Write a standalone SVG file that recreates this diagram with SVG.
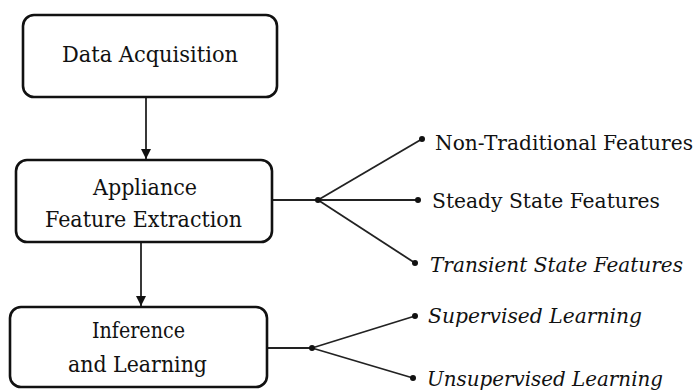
<svg xmlns="http://www.w3.org/2000/svg" width="700" height="391" viewBox="0 0 700 391">
<defs>
<style>
.box{fill:#fff;stroke:#111;stroke-width:2.6}
.t{font-family:'DejaVu Serif','Liberation Serif',serif;font-size:23px;fill:#111}
.leaf{font-size:20.5px}
.c{text-anchor:middle}
.i{font-style:italic}
.ln{fill:none;stroke:#222;stroke-width:1.8}
.dot{fill:#111}
</style>
<marker id="ah" viewBox="0 0 10 10" refX="10" refY="5" markerWidth="10" markerHeight="10" markerUnits="userSpaceOnUse" orient="auto">
<path d="M0,0 L10,5 L0,10 z" fill="#111"/>
</marker>
</defs>
<rect width="700" height="391" fill="#fff"/>
<g id="connectors">
<line class="ln" x1="146" y1="97" x2="146" y2="159" marker-end="url(#ah)"/>
<line class="ln" x1="141" y1="243" x2="141" y2="306" marker-end="url(#ah)"/>
<line class="ln" x1="272" y1="200" x2="318" y2="200"/>
<line class="ln" x1="318" y1="200" x2="422" y2="139"/>
<line class="ln" x1="318" y1="200" x2="418" y2="200"/>
<line class="ln" x1="318" y1="200" x2="415" y2="263"/>
<line class="ln" x1="267" y1="348" x2="312" y2="348"/>
<line class="ln" x1="312" y1="348" x2="415" y2="316"/>
<line class="ln" x1="312" y1="348" x2="413" y2="378"/>
<circle class="dot" cx="318" cy="200" r="3"/>
<circle class="dot" cx="312" cy="348" r="3"/>
<circle class="dot" cx="422" cy="139" r="3"/>
<circle class="dot" cx="418" cy="200" r="3"/>
<circle class="dot" cx="415" cy="263" r="3"/>
<circle class="dot" cx="415" cy="316" r="3"/>
<circle class="dot" cx="413" cy="378" r="3"/>
</g>
<g id="data-acquisition">
<rect class="box" x="23" y="15" width="254" height="82" rx="11"/>
<text class="t c" x="150" y="62" textLength="176" lengthAdjust="spacingAndGlyphs">Data Acquisition</text>
</g>
<g id="feature-extraction">
<rect class="box" x="16" y="160" width="256" height="82" rx="11"/>
<text class="t c" x="145" y="195" textLength="104" lengthAdjust="spacingAndGlyphs">Appliance</text>
<text class="t c" x="143.5" y="227" textLength="197" lengthAdjust="spacingAndGlyphs">Feature Extraction</text>
</g>
<g id="inference-learning">
<rect class="box" x="10" y="307" width="257" height="80" rx="11"/>
<text class="t c" x="138.5" y="338" textLength="93" lengthAdjust="spacingAndGlyphs">Inference</text>
<text class="t c" x="137.5" y="372" textLength="139" lengthAdjust="spacingAndGlyphs">and Learning</text>
</g>
<g id="leaf-nontraditional"><text class="t leaf" x="435" y="150" textLength="258" lengthAdjust="spacingAndGlyphs">Non-Traditional Features</text></g>
<g id="leaf-steady"><text class="t leaf" x="432" y="208" textLength="228" lengthAdjust="spacingAndGlyphs">Steady State Features</text></g>
<g id="leaf-transient"><text class="t leaf i" x="430" y="272" textLength="253" lengthAdjust="spacingAndGlyphs">Transient State Features</text></g>
<g id="leaf-supervised"><text class="t leaf i" x="428" y="323" textLength="214" lengthAdjust="spacingAndGlyphs">Supervised Learning</text></g>
<g id="leaf-unsupervised"><text class="t leaf i" x="427" y="386" textLength="236" lengthAdjust="spacingAndGlyphs">Unsupervised Learning</text></g>
</svg>
